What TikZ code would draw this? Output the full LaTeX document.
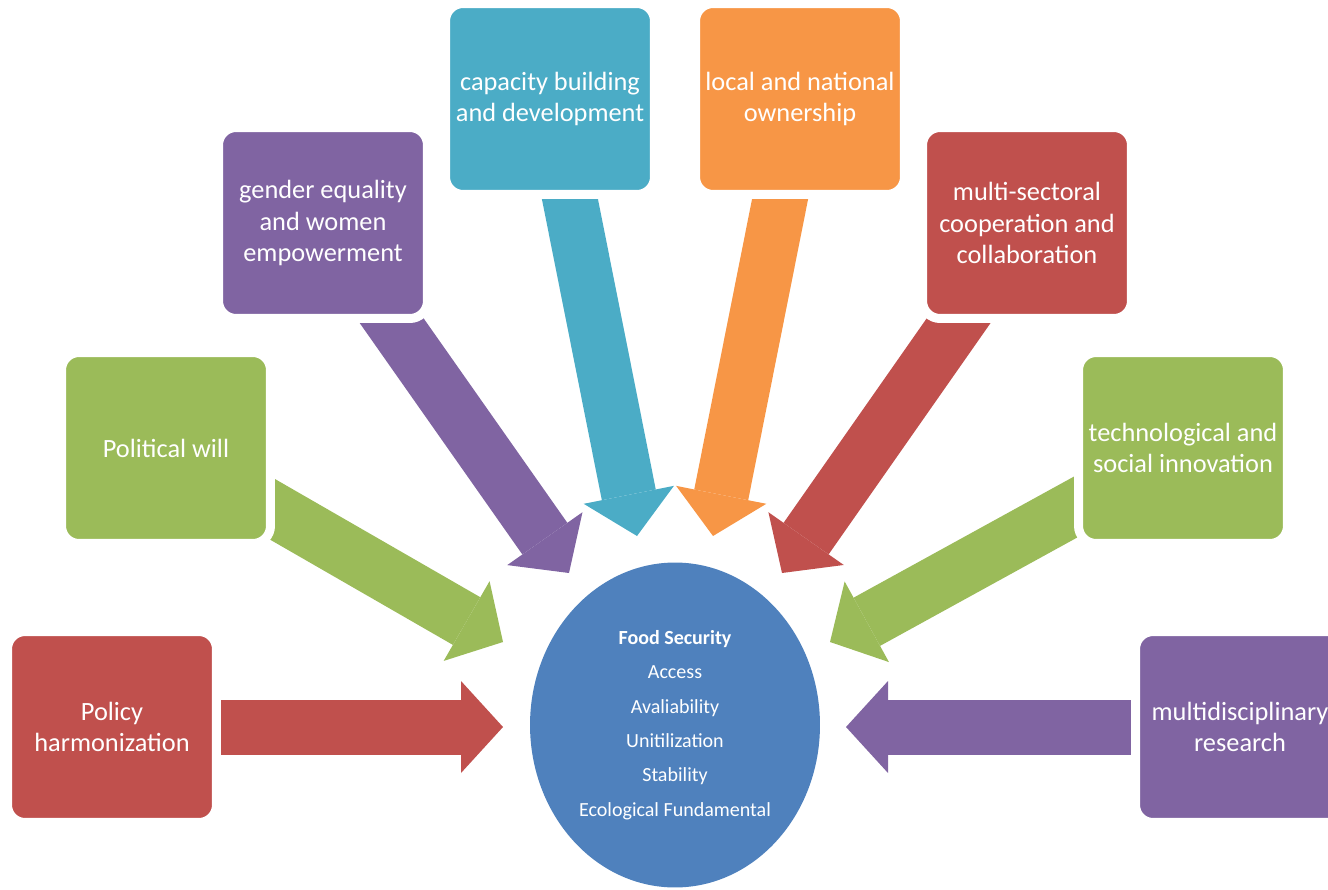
\documentclass[tikz,border=0pt]{standalone}
\usepackage{fontspec}
\setmainfont{Carlito}
\usetikzlibrary{shapes.geometric,arrows.meta,backgrounds}

\definecolor{fsred}{HTML}{C0504D}
\definecolor{fsgreen}{HTML}{9BBB59}
\definecolor{fspurple}{HTML}{8064A2}
\definecolor{fsteal}{HTML}{4BACC6}
\definecolor{fsorange}{HTML}{F79646}
\definecolor{fsblue}{HTML}{4F81BD}

\tikzset{
  factor/.style={rectangle, rounded corners=0.35cm, draw=white, line width=0.18cm,
    minimum width=4.18cm, minimum height=3.82cm, align=center, text=white,
    font=\fontsize{15}{18}\selectfont, inner sep=0pt},
  fatarrow/.style={line width=1.1cm,
    -{Triangle[length=0.84cm, width=1.84cm, line width=0pt]}},
}

\begin{document}
\begin{tikzpicture}[x=0.02cm, y=-0.02cm]
        \useasboundingbox (0,0) rectangle (1328,889);

        % core
        \node[ellipse, fill=fsblue, minimum width=5.8cm, minimum height=6.5cm, inner sep=0pt,
          align=center, text=white, font=\fontsize{11.4}{19.6}\selectfont] (food) at (675,725)
          {\textbf{Food Security}\\Access\\Avaliability\\Unitilization\\Stability\\Ecological Fundamental};

        % left side
        \node[factor, fill=fsred] (policy) at (112,727) {Policy\\harmonization};
        \node[factor, fill=fsgreen] (political) at (166,448) {Political will};
        \node[factor, fill=fspurple] (gender) at (323,223) {gender equality\\and women\\empowerment};
        \node[factor, fill=fsteal] (capacity) at (550,99) {capacity building\\and development};

        % right side
        \node[factor, fill=fsorange] (ownership) at (800,99) {local and national\\ownership};
        \node[factor, fill=fsred] (sectoral) at (1027,223) {multi-sectoral\\cooperation and\\collaboration};
        \node[factor, fill=fsgreen] (innovation) at (1183,448) {technological and\\social innovation};
        \node[factor, fill=fspurple] (research) at (1240,727) {multidisciplinary\\research};

        % arrow tips
        \coordinate (policytip) at (503,727);
        \coordinate (politicaltip) at (503,642);
        \coordinate (gendertip) at (569,573);
        \coordinate (capacitytip) at (637,536);
        \coordinate (ownershiptip) at (713,536);
        \coordinate (sectoraltip) at (782,573);
        \coordinate (innovationtip) at (830,642);
        \coordinate (researchtip) at (846,727);

        \begin{pgfonlayer}{background}
          \draw[fatarrow, fsred] (policy.center) -- (policytip);
          \draw[fatarrow, fsgreen] (political.center) -- (politicaltip);
          \draw[fatarrow, fspurple] (gender.center) -- (gendertip);
          \draw[fatarrow, fsteal] (capacity.center) -- (capacitytip);
          \draw[fatarrow, fsorange] (ownership.center) -- (ownershiptip);
          \draw[fatarrow, fsred] (sectoral.center) -- (sectoraltip);
          \draw[fatarrow, fsgreen] (innovation.center) -- (innovationtip);
          \draw[fatarrow, fspurple] (research.center) -- (researchtip);
        \end{pgfonlayer}

      \end{tikzpicture}
\end{document}
